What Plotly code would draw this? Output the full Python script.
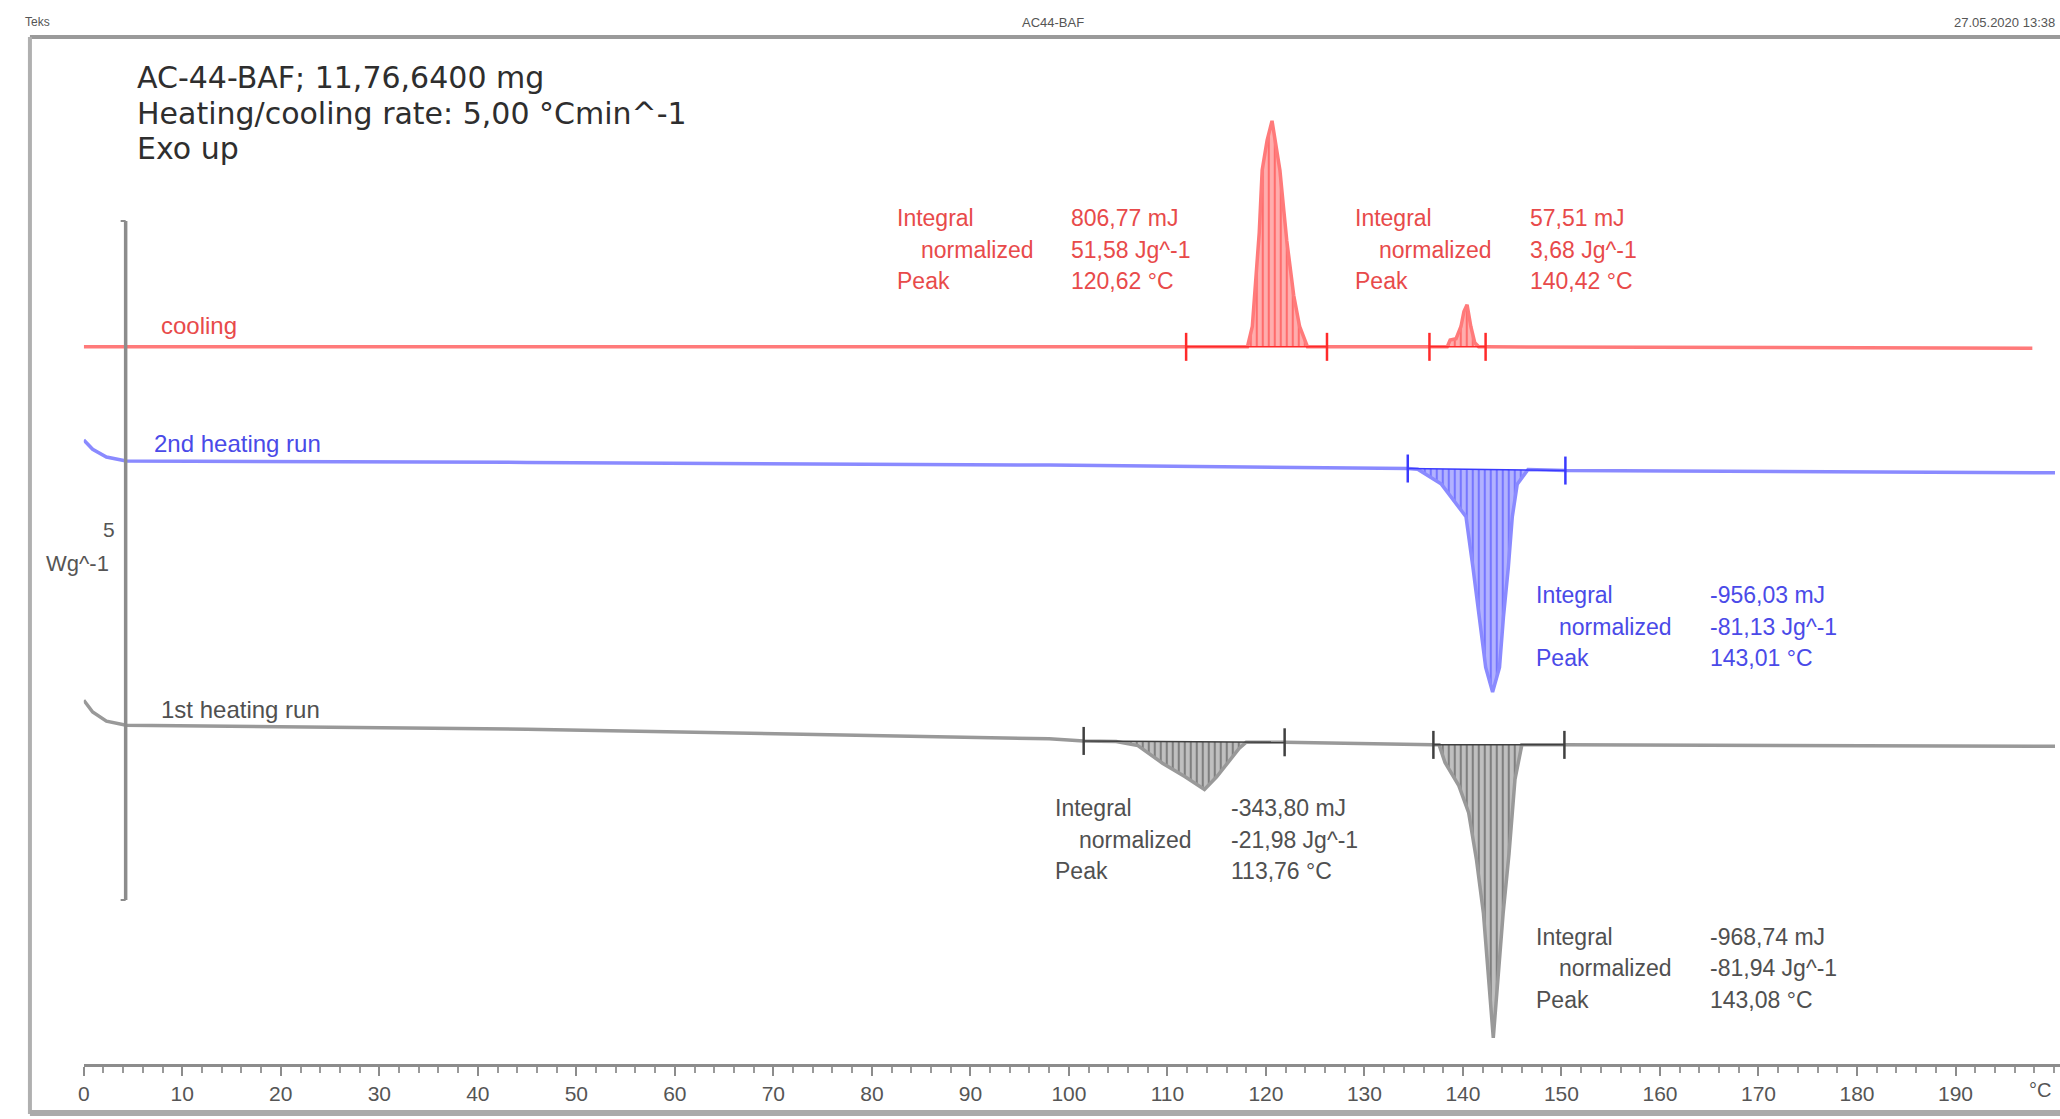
import numpy as np
import plotly.graph_objects as go

# ---------------- measured DSC curves: temperature (°C), heat flow (W/g) ----------------
cooling_T = [0.0, 45.0, 111.9, 118.12, 118.62, 119.02, 119.32, 119.62, 120.12, 120.62, 121.12,
             121.42, 121.82, 122.12, 122.82, 123.42, 124.22, 126.2, 136.6, 138.4, 138.7, 139.3,
             139.8, 140.1, 140.42, 140.8, 141.2, 141.6, 142.3, 170.0, 197.8]
cooling_hf = [0.0, 0.0, 0.0, 0.0, 0.15, 0.50, 0.84, 1.30, 1.52, 1.664, 1.45,
              1.30, 1.00, 0.78, 0.38, 0.15, 0.0, 0.0, 0.0, 0.0, 0.05, 0.06,
              0.15, 0.26, 0.31, 0.15, 0.03, 0.0, 0.0, -0.005, -0.01]

heat2_T = [0.0, 0.9, 2.3, 4.3, 45.0, 98.0, 134.4, 135.41, 137.81, 140.31, 141.01, 141.66,
           142.31, 143.01, 143.71, 144.11, 144.61, 145.01, 145.51, 146.61, 150.4, 200.1]
heat2_hf = [0.155, 0.087, 0.03, 0.0, -0.01, -0.03, -0.055, -0.06, -0.17, -0.41, -0.78, -1.15,
            -1.52, -1.70, -1.52, -1.15, -0.78, -0.41, -0.17, -0.062, -0.07, -0.087]

heat1_T = [0.0, 0.9, 2.3, 4.3, 45.0, 98.0, 101.5, 104.8, 107.0, 109.5, 111.8, 113.76, 115.0,
           116.3, 117.3, 118.0, 121.9, 137.0, 137.58, 138.18, 139.58, 140.58, 141.38, 142.08,
           142.58, 143.08, 143.58, 144.08, 144.68, 144.98, 145.28, 145.98, 150.3, 200.1]
heat1_hf = [0.184, 0.097, 0.03, 0.0, -0.03, -0.10, -0.116, -0.12, -0.15, -0.28, -0.38, -0.473, -0.38,
            -0.26, -0.17, -0.125, -0.126, -0.145, -0.145, -0.275, -0.445, -0.645, -0.995, -1.385,
            -1.845, -2.302, -1.845, -1.385, -0.945, -0.645, -0.40, -0.145, -0.145, -0.155]

# integration limits (°C)
cooling_limits = [(111.9, 126.2), (136.6, 142.3)]
heat2_limits = [(134.4, 150.4)]
heat1_limits = [(101.5, 121.9), (137.0, 150.3)]

# evaluation results (integral, normalized, peak)
cooling_results = [("806,77 mJ", "51,58 Jg^-1", "120,62 °C"),
                   ("57,51 mJ", "3,68 Jg^-1", "140,42 °C")]
heat2_results = [("-956,03 mJ", "-81,13 Jg^-1", "143,01 °C")]
heat1_results = [("-343,80 mJ", "-21,98 Jg^-1", "113,76 °C"),
                 ("-968,74 mJ", "-81,94 Jg^-1", "143,08 °C")]

x_ticks = list(range(0, 200, 10))
header_left, header_mid, header_right = "Teks", "AC44-BAF", "27.05.2020 13:38"
info_lines = ["AC-44-BAF; 11,76,6400 mg", "Heating/cooling rate: 5,00 °Cmin^-1", "Exo up"]
scale_value, scale_unit = "5", "Wg^-1"
scale_span = 5.0  # W/g represented by the scale bar

# ---------------- page geometry ----------------
W, H = 2060, 1119
XS = -5               # horizontal nudge of the whole sheet
X0_PX = 83 + XS       # pixel of 0 °C
PX_PER_C = 9.88
AXIS_PX = 1064        # pixel row of the temperature axis
PX_PER_WG = 135.8
X_MAX = (W - X0_PX) / PX_PER_C
Y_MAX = AXIS_PX / PX_PER_WG

def pxx(x):
    return (x + XS) / W

def pxy(y):
    return 1 - y / H

LABEL_FONT = "Liberation Sans, Arial, sans-serif"

series = [
    dict(name="cooling", T=cooling_T, hf=cooling_hf, lim=cooling_limits, offset=5.281,
         line="#ff7a7a", dark="#ff2a2a", fill="rgba(255,160,160,0.85)", text="#e84a4a",
         label_px=(158, 325)),
    dict(name="2nd heating run", T=heat2_T, hf=heat2_hf, lim=heat2_limits, offset=4.440,
         line="#8a8aff", dark="#3a3aff", fill="rgba(165,165,255,0.85)", text="#4a4ae8",
         label_px=(151, 443)),
    dict(name="1st heating run", T=heat1_T, hf=heat1_hf, lim=heat1_limits, offset=2.495,
         line="#999999", dark="#404040", fill="rgba(185,185,185,0.9)", text="#505050",
         label_px=(158, 709)),
]

fig = go.Figure()

for s in series:
    T = np.array(s["T"])
    y = np.array(s["hf"]) + s["offset"]
    # hatched peak areas between the curve and the straight integration baseline
    for lo, hi in s["lim"]:
        ylo, yhi = np.interp(lo, T, y), np.interp(hi, T, y)
        inside = (T > lo) & (T < hi)
        xs = [lo] + list(T[inside]) + [hi, lo]
        ys = [ylo] + list(y[inside]) + [yhi, ylo]
        fig.add_trace(go.Scatter(
            x=xs, y=ys, mode="lines", fill="toself", line=dict(width=0),
            fillcolor=s["fill"],
            fillpattern=dict(shape="|", size=6, solidity=0.35, fgcolor=s["dark"],
                             bgcolor=s["fill"]),
            hoverinfo="skip", showlegend=False))
    # measured curve
    fig.add_trace(go.Scatter(x=T, y=y, mode="lines", line=dict(color=s["line"], width=3.5),
                             name=s["name"], showlegend=False))
    # integration baselines and limit markers
    for lo, hi in s["lim"]:
        ylo, yhi = np.interp(lo, T, y), np.interp(hi, T, y)
        fig.add_trace(go.Scatter(x=[lo, hi], y=[ylo, yhi], mode="lines",
                                 line=dict(color=s["dark"], width=1.5),
                                 hoverinfo="skip", showlegend=False))
        fig.add_trace(go.Scatter(x=[lo, hi], y=[ylo, yhi], mode="markers",
                                 marker=dict(symbol="line-ns-open", size=20, color=s["dark"],
                                             line=dict(color=s["dark"], width=2.5)),
                                 hoverinfo="skip", showlegend=False))

annotations = []

def add_text(x, y, text, size, color, anchor="left", family=LABEL_FONT):
    annotations.append(dict(x=pxx(x), y=pxy(y), xref="paper", yref="paper", text=text,
                            showarrow=False, xanchor=anchor, yanchor="middle",
                            font=dict(family=family, size=size, color=color)))

# curve names
for s in series:
    add_text(s["label_px"][0], s["label_px"][1], s["name"], 24, s["text"])

# evaluation blocks: (series, result, label column px, value column px, first row px)
blocks = [
    (series[0], cooling_results[0], 897, 1071, 218),
    (series[0], cooling_results[1], 1356, 1531, 218),
    (series[1], heat2_results[0], 1537, 1712, 595),
    (series[2], heat1_results[0], 1055, 1232, 808),
    (series[2], heat1_results[1], 1537, 1712, 937),
]
row_step = 31.5
for s, res, xl, xv, y0 in blocks:
    for i, name in enumerate(["Integral", "normalized", "Peak"]):
        add_text(xl + (24 if i == 1 else 0), y0 + i * row_step, name, 23, s["text"])
        add_text(xv, y0 + i * row_step, res[i], 23, s["text"])

# sample information
for i, line in enumerate(info_lines):
    add_text(134, 77 + i * 36, line, 30, "#2e2e2e", family="DejaVu Sans, Liberation Sans, sans-serif")

# header row
add_text(22, 22, header_left, 12, "#555555")
add_text(1055, 22, header_mid, 13, "#555555", anchor="center")
add_text(2062, 22, header_right, 13, "#555555", anchor="right")

# scale bar labels
add_text(116, 530, scale_value, 21, "#555555", anchor="right")
add_text(110, 563, scale_unit, 22, "#555555", anchor="right")

# temperature unit at the end of the axis
add_text(2045, 1090, "°C", 20, "#555555", anchor="center")

shapes = []
frame_col = "#9a9a9a"
# page frame
shapes.append(dict(type="line", xref="paper", yref="paper", x0=pxx(29), x1=1.0,
                   y0=pxy(37), y1=pxy(37), line=dict(color=frame_col, width=4)))
shapes.append(dict(type="line", xref="paper", yref="paper", x0=pxx(29), x1=pxx(29),
                   y0=pxy(37), y1=pxy(1114), line=dict(color="#b0b0b0", width=4)))
shapes.append(dict(type="line", xref="paper", yref="paper", x0=pxx(29), x1=1.0,
                   y0=pxy(1113), y1=pxy(1113), line=dict(color="#aaaaaa", width=6)))
# heat-flow scale bar
bar_x = 42 / PX_PER_C
bar_lo = (AXIS_PX - 900) / PX_PER_WG
bar_hi = bar_lo + scale_span
cap = 5 / PX_PER_C
shapes.append(dict(type="line", xref="x", yref="y", x0=bar_x, x1=bar_x, y0=bar_lo, y1=bar_hi,
                   line=dict(color="#8c8c8c", width=3.5)))
for yb in (bar_lo, bar_hi):
    shapes.append(dict(type="line", xref="x", yref="y", x0=bar_x - cap, x1=bar_x, y0=yb, y1=yb,
                       line=dict(color="#8c8c8c", width=2)))

fig.update_layout(
    width=W, height=H, autosize=False,
    margin=dict(l=0, r=0, t=0, b=0),
    paper_bgcolor="white", plot_bgcolor="white",
    showlegend=False,
    annotations=annotations, shapes=shapes,
    xaxis=dict(domain=[X0_PX / W, 1], range=[0, X_MAX], showgrid=False, zeroline=False,
               showline=True, linecolor="#8c8c8c", linewidth=3,
               ticks="outside", ticklen=9, tickwidth=2, tickcolor="#8c8c8c",
               tickvals=x_ticks, ticktext=[str(v) for v in x_ticks],
               tickfont=dict(family="Liberation Sans Narrow, Liberation Sans, Arial, sans-serif",
                             size=21, color="#555555"),
               minor=dict(ticks="outside", dtick=2, tick0=0, ticklen=6, tickwidth=2,
                          tickcolor="#9a9a9a"),
               fixedrange=True),
    yaxis=dict(domain=[(H - AXIS_PX) / H, 1], range=[0, Y_MAX], visible=False, fixedrange=True),
)

fig.write_html("out.html")
